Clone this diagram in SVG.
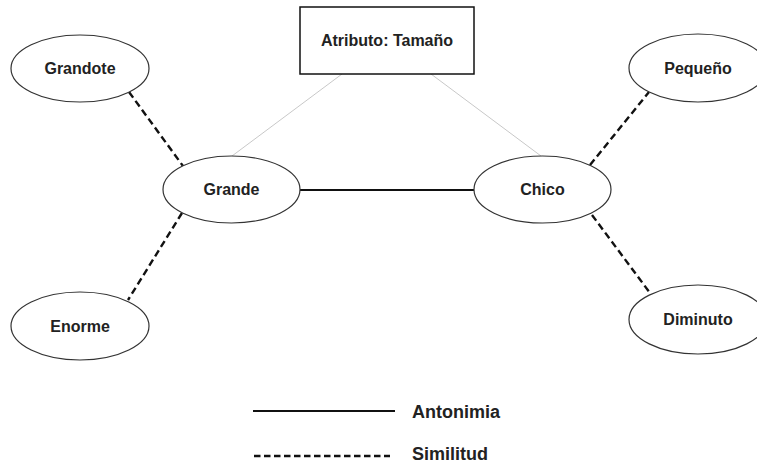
<svg xmlns="http://www.w3.org/2000/svg" width="757" height="462" viewBox="0 0 757 462">
<style>
.n{fill:#fff;stroke:#333;stroke-width:1.2}
.t{font-family:"Liberation Sans",Arial,sans-serif;font-weight:bold;font-size:16px;fill:#222;text-anchor:middle}
.lg{font-family:"Liberation Sans",Arial,sans-serif;font-weight:bold;font-size:18px;fill:#222}
.sol{stroke:#111;stroke-width:2;fill:none}
.dash{stroke:#111;stroke-width:2.4;fill:none;stroke-dasharray:7 4}
.gray{stroke:#c8c8c8;stroke-width:1;fill:none}
</style>
<rect width="757" height="462" fill="#fff"/>
<g id="connectors">
<line class="gray" x1="342" y1="74" x2="232" y2="156"/>
<line class="gray" x1="431" y1="74" x2="541" y2="156"/>
<line class="dash" x1="129" y1="92" x2="183" y2="166"/>
<line class="dash" x1="182" y1="213" x2="128" y2="300"/>
<line class="dash" x1="590" y1="165" x2="649" y2="92"/>
<line class="dash" x1="592" y1="215" x2="650" y2="293"/>
<line class="sol" x1="300" y1="190" x2="474" y2="190"/>
</g>
<g id="atributo">
<rect x="300" y="7" width="174" height="67" fill="#fff" stroke="#111" stroke-width="1.5"/>
<text class="t" x="387" y="45.5">Atributo: Tamaño</text>
</g>
<g id="grandote">
<ellipse class="n" cx="80" cy="68.5" rx="69" ry="33.5"/>
<text class="t" x="80" y="74">Grandote</text>
</g>
<g id="grande">
<ellipse class="n" cx="231.5" cy="189.5" rx="68.5" ry="33.5"/>
<text class="t" x="231.5" y="195">Grande</text>
</g>
<g id="chico">
<ellipse class="n" cx="542.5" cy="189.5" rx="68.5" ry="33.5"/>
<text class="t" x="542.5" y="195">Chico</text>
</g>
<g id="enorme">
<ellipse class="n" cx="80" cy="326" rx="69" ry="34"/>
<text class="t" x="80" y="331.5">Enorme</text>
</g>
<g id="pequeno">
<ellipse class="n" cx="698" cy="68" rx="69" ry="34"/>
<text class="t" x="698" y="73.5">Pequeño</text>
</g>
<g id="diminuto">
<ellipse class="n" cx="698" cy="319.5" rx="69" ry="34.5"/>
<text class="t" x="698" y="325">Diminuto</text>
</g>
<g id="legend">
<line class="sol" x1="253" y1="411" x2="395" y2="411"/>
<text class="lg" x="412" y="418">Antonimia</text>
<line class="dash" x1="254" y1="456" x2="390" y2="456" style="stroke-dasharray:6.5 3.5"/>
<text class="lg" x="412" y="459.5">Similitud</text>
</g>
</svg>
